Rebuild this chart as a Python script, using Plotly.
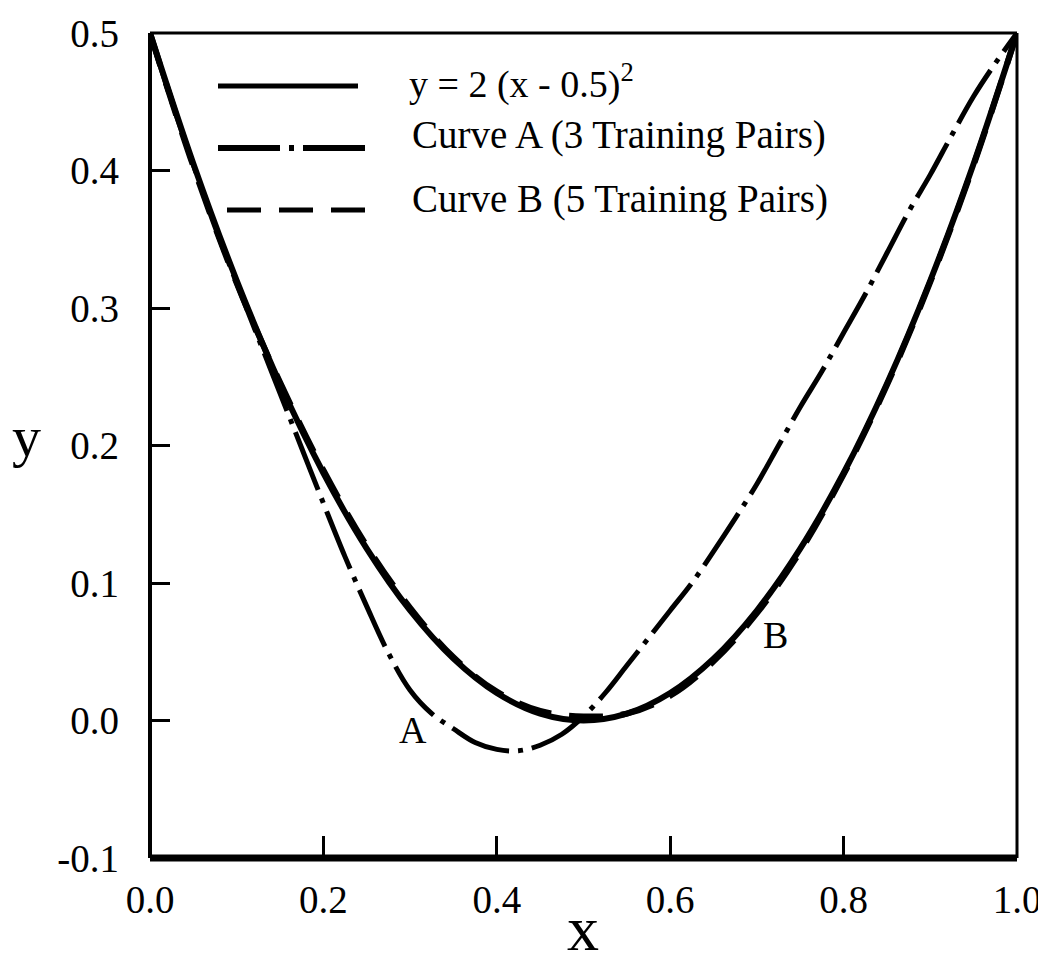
import plotly.graph_objects as go

# ---- data ----
x_curve = [0.0, 0.05, 0.1, 0.15, 0.2, 0.25, 0.3, 0.35, 0.4, 0.45, 0.5,
           0.55, 0.6, 0.65, 0.7, 0.75, 0.8, 0.85, 0.9, 0.95, 1.0]
y_exact = [0.5, 0.405, 0.32, 0.245, 0.18, 0.125, 0.08, 0.045, 0.02, 0.005, 0.0,
           0.005, 0.02, 0.045, 0.08, 0.125, 0.18, 0.245, 0.32, 0.405, 0.5]
y_curve_b = [0.5, 0.403, 0.318, 0.246, 0.182, 0.127, 0.082, 0.046, 0.021, 0.007, 0.003,
             0.005, 0.018, 0.043, 0.078, 0.123, 0.179, 0.244, 0.319, 0.404, 0.5]

x_curve_a = [0.0, 0.025, 0.05, 0.075, 0.1, 0.125, 0.15, 0.175, 0.2, 0.225, 0.25,
             0.275, 0.3, 0.325, 0.35, 0.375, 0.4, 0.425, 0.45, 0.475, 0.5,
             0.525, 0.55, 0.575, 0.6, 0.625, 0.65, 0.675, 0.7, 0.725, 0.75,
             0.775, 0.8, 0.825, 0.85, 0.875, 0.9, 0.925, 0.95, 0.975, 1.0]
y_curve_a = [0.5, 0.450, 0.404, 0.359, 0.318, 0.278, 0.238, 0.198, 0.158, 0.119, 0.083,
             0.049, 0.022, 0.005, -0.006, -0.016, -0.021, -0.022, -0.018, -0.010, 0.003,
             0.020, 0.040, 0.060, 0.080, 0.100, 0.123, 0.147, 0.172, 0.200, 0.228,
             0.254, 0.282, 0.310, 0.340, 0.370, 0.397, 0.426, 0.454, 0.478, 0.5]

x_ticks = [0.0, 0.2, 0.4, 0.6, 0.8, 1.0]
x_tick_labels = ["0.0", "0.2", "0.4", "0.6", "0.8", "1.0"]
y_ticks = [-0.1, 0.0, 0.1, 0.2, 0.3, 0.4, 0.5]
y_tick_labels = ["-0.1", "0.0", "0.1", "0.2", "0.3", "0.4", "0.5"]

legend_labels = ["y = 2 (x - 0.5)<sup>2</sup>",
                 "Curve A (3 Training Pairs)",
                 "Curve B (5 Training Pairs)"]

FONT = "Liberation Serif, Times New Roman, serif"
DASHDOT = "62px,9px,5px,9px"
DASHED = "34px,18px"

fig = go.Figure()
fig.add_trace(go.Scatter(x=x_curve, y=y_exact, mode="lines",
                         line=dict(color="black", width=6, shape="spline"),
                         name=legend_labels[0]))
fig.add_trace(go.Scatter(x=x_curve, y=y_curve_b, mode="lines",
                         line=dict(color="black", width=6, dash=DASHED, shape="spline"),
                         name=legend_labels[2]))
fig.add_trace(go.Scatter(x=x_curve_a, y=y_curve_a, mode="lines",
                         line=dict(color="black", width=5, dash=DASHDOT, shape="spline"),
                         name=legend_labels[1]))

# page has an 8px body margin; plot area (page px): left 150, right 1017, top 33, bottom 858
W, H = 1038, 960
L, R, T, B = 142, 29, 25, 110
PLEFT, PBOTTOM, PW, PH = 150, 858, 867, 825


def px(xp):
    return (xp - PLEFT) / PW


def py(yp):
    return (PBOTTOM - yp) / PH


shapes = [
    dict(type="line", xref="paper", yref="paper", x0=0, x1=0, y0=0, y1=1,
         line=dict(color="black", width=4)),
    dict(type="line", xref="paper", yref="paper", x0=0, x1=1, y0=0, y1=0,
         line=dict(color="black", width=7)),
    dict(type="line", xref="paper", yref="paper", x0=1, x1=1, y0=0, y1=1,
         line=dict(color="black", width=3)),
    dict(type="line", xref="paper", yref="paper", x0=0, x1=1, y0=1, y1=1,
         line=dict(color="black", width=3)),
    # legend samples
    dict(type="line", xref="paper", yref="paper", x0=px(218), x1=px(358), y0=py(86), y1=py(86),
         line=dict(color="black", width=5)),
    dict(type="line", xref="paper", yref="paper", x0=px(218), x1=px(368), y0=py(148), y1=py(148),
         line=dict(color="black", width=6, dash=DASHDOT)),
    dict(type="line", xref="paper", yref="paper", x0=px(227), x1=px(368), y0=py(210), y1=py(210),
         line=dict(color="black", width=5, dash=DASHED)),
]

TXT = dict(family=FONT, color="black")
annotations = [
    dict(text=legend_labels[0], xref="paper", yref="paper", x=px(407), y=py(81),
         xanchor="left", yanchor="middle", showarrow=False, font=dict(size=38, **TXT)),
    dict(text=legend_labels[1], xref="paper", yref="paper", x=px(410), y=py(135),
         xanchor="left", yanchor="middle", showarrow=False, font=dict(size=39, **TXT)),
    dict(text=legend_labels[2], xref="paper", yref="paper", x=px(410), y=py(199),
         xanchor="left", yanchor="middle", showarrow=False, font=dict(size=39, **TXT)),
    dict(text="A", x=0.303, y=-0.007, xref="x", yref="y", showarrow=False,
         xanchor="center", yanchor="middle", font=dict(size=38, **TXT)),
    dict(text="B", x=0.721, y=0.062, xref="x", yref="y", showarrow=False,
         xanchor="center", yanchor="middle", font=dict(size=38, **TXT)),
    dict(text="y", xref="paper", yref="paper", x=px(27), y=py(436), showarrow=False,
         xanchor="center", yanchor="middle", font=dict(size=58, **TXT)),
    dict(text="x", xref="paper", yref="paper", x=px(583), y=py(966), showarrow=False,
         xanchor="center", yanchor="bottom", font=dict(size=64, **TXT)),
]

fig.update_layout(
    width=W, height=H,
    margin=dict(l=L, r=R, t=T, b=B, autoexpand=False),
    paper_bgcolor="white", plot_bgcolor="white",
    showlegend=False,
    shapes=shapes,
    annotations=annotations,
    font=dict(family=FONT, color="black"),
)
fig.update_xaxes(range=[0, 1], tickvals=x_ticks, ticktext=x_tick_labels,
                 ticks="inside", ticklen=22, tickwidth=3, tickcolor="black",
                 showgrid=False, zeroline=False, showline=False, automargin=False,
                 tickfont=dict(size=39, **TXT),
                 ticklabelstandoff=15)
fig.update_yaxes(range=[-0.1, 0.5], tickvals=y_ticks, ticktext=y_tick_labels,
                 ticks="inside", ticklen=20, tickwidth=3, tickcolor="black",
                 showgrid=False, zeroline=False, showline=False, automargin=False,
                 tickfont=dict(size=39, **TXT),
                 ticklabelstandoff=30)

fig.write_html("out.html")
